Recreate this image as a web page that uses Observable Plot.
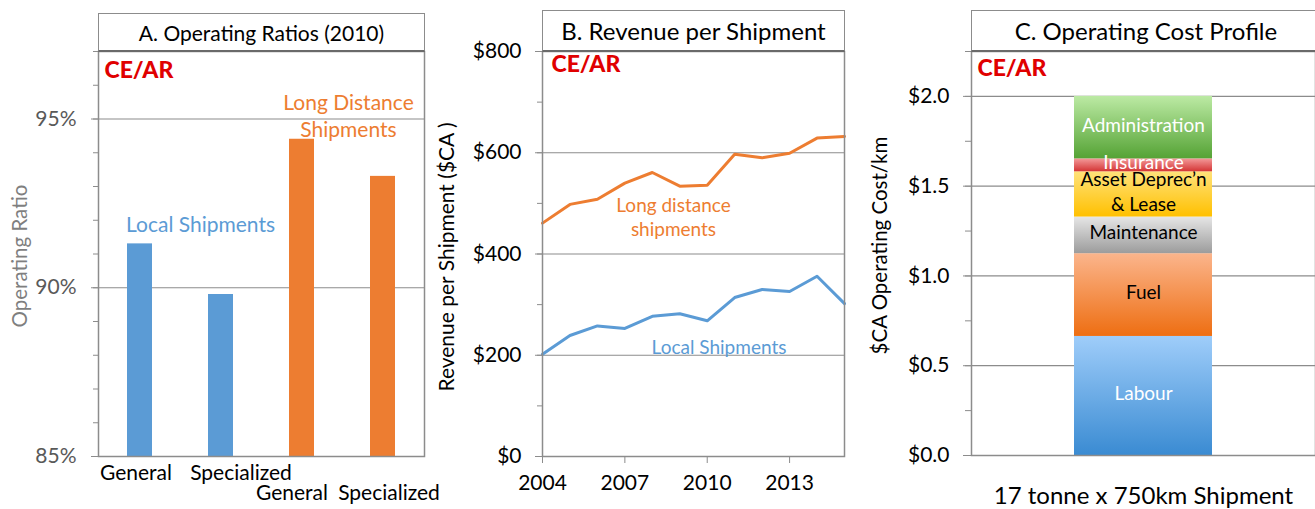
<!DOCTYPE html>
<html>
<head>
<meta charset="utf-8">
<script src="https://cdn.jsdelivr.net/npm/d3@7"></script>
<script src="https://cdn.jsdelivr.net/npm/@observablehq/plot@0.6"></script>
<style>
  body { margin: 0; background: #fff; }
  #root { position: relative; width: 1315px; height: 509px; overflow: hidden; background: #fff; font-family: Lato, "Open Sans", sans-serif; }
  .panel { position: absolute; top: 0; }
  .title { position: absolute; box-sizing: border-box; border: 1px solid #8c8c8c; border-bottom: 2px solid #6a6a6a; background: #fff;
           display: flex; align-items: center; justify-content: center; color: #000; font-family: Lato, sans-serif; }
</style>
</head>
<body>
<div id="root"></div>
<script>
// ---------------- DATA ----------------
// Panel A: Operating ratios (2010)
const catsA = ["Local General", "Local Specialized", "Long Distance General", "Long Distance Specialized"];
const groupA = ["Local", "Local", "Long", "Long"];
const tickLabelsA = ["General", "Specialized", "General", "Specialized"];
const ratioA = [91.3, 89.8, 94.4, 93.3];
const yTicksA = [85, 90, 95];

// Panel B: Revenue per shipment ($CA)
const yearsB = [2004, 2005, 2006, 2007, 2008, 2009, 2010, 2011, 2012, 2013, 2014, 2015];
const longDistanceB = [461, 498, 508, 540, 561, 534, 536, 597, 590, 599, 629, 632];
const localB = [202, 239, 258, 253, 277, 282, 268, 314, 330, 326, 356, 302];
const xTicksB = [2004, 2007, 2010, 2013];
const yTicksB = [0, 200, 400, 600, 800];

// Panel C: Operating cost profile ($CA/km)
const shipmentC = "17 tonne x 750km Shipment";
const costNamesC = ["Labour", "Fuel", "Maintenance", "Asset Deprec\u2019n\n& Lease", "Insurance", "Administration"];
const costValuesC = [0.663, 0.461, 0.204, 0.252, 0.072, 0.348];
const yTicksC = [0, 0.5, 1.0, 1.5, 2.0];

// ---------------- STYLE ----------------
const BLUE = "#5b9bd5", ORANGE = "#ed7d31";
const GRID = "#8c8c8c";
const FONT = "Lato, 'Open Sans', sans-serif";
const gradC = {
  "Labour": ["#9fcdfa", "#3a8bd2", "#fff"],
  "Fuel": ["#fbb58c", "#ee6e12", "#000"],
  "Maintenance": ["#e6e6e6", "#9c9c9c", "#000"],
  "Asset Deprec\u2019n\n& Lease": ["#ffe27a", "#ffc000", "#000"],
  "Insurance": ["#f49a9a", "#d43535", "#fff"],
  "Administration": ["#bceaa4", "#55a335", "#fff"]
};

const root = document.getElementById("root");
function addPanel(svg, left) {
  const d = document.createElement("div");
  d.className = "panel";
  d.style.left = left + "px";
  d.appendChild(svg);
  root.appendChild(d);
}
function addTitle(text, left, top, width, height, size) {
  const t = document.createElement("div");
  t.className = "title";
  Object.assign(t.style, {left: left + "px", top: top + "px", width: width + "px", height: height + "px", fontSize: size + "px"});
  t.textContent = text;
  root.appendChild(t);
}
const logo = (dx, dy) => Plot.text(["CE/AR"], {
  frameAnchor: "top-left", dx, dy, text: d => d, textAnchor: "start", lineAnchor: "middle",
  fill: "#e00000", fontSize: 23, fontWeight: 900, fontFamily: "Lato, sans-serif", letterSpacing: "-0.5px"
});
const note = (text, dx, dy, fill, fontSize, extra = {}) => Plot.text([text], {
  frameAnchor: "top-left", text: d => d, dx, dy, textAnchor: "middle", lineAnchor: "middle", fill, fontSize, ...extra
});
const yLabel = (text, dx, dy, fill, fontSize) => Plot.text([text], {
  frameAnchor: "left", text: d => d, rotate: -90, dx, dy, textAnchor: "middle", lineAnchor: "middle", fill, fontSize
});

// ---------------- PANEL A ----------------
const dataA = catsA.map((c, i) => ({cat: c, group: groupA[i], label: tickLabelsA[i], value: ratioA[i]}));
const labelOffsetsA = [[-4, 17], [20, 17], [-10, 37], [6, 37]];
const plotA = Plot.plot({
  width: 430, height: 509,
  marginLeft: 98, marginRight: 6, marginTop: 51, marginBottom: 53,
  style: {fontFamily: FONT, fontSize: "20px", background: "transparent", overflow: "visible"},
  x: {domain: catsA, paddingInner: 0.69, paddingOuter: 0.345, axis: null},
  y: {domain: [85, 97], axis: null, label: null},
  color: {type: "identity"},
  marks: [
    Plot.ruleY(yTicksA.slice(1), {stroke: GRID, strokeWidth: 1.2}),
    Plot.barY(dataA, {x: "cat", y1: 85, y2: "value", fill: d => d.group === "Local" ? BLUE : ORANGE}),
    Plot.frame({stroke: GRID, strokeWidth: 1.5}),
    Plot.axisY(d3.range(85, 98), {tickSize: 5, tickFormat: () => "", stroke: GRID, label: null}),
    Plot.axisY(yTicksA, {tickSize: 7, tickPadding: 15, tickFormat: d => d + "%", stroke: GRID, fill: "#595959", fontSize: 21, label: null}),
    yLabel("Operating Ratio", -78, 2, "#7f7f7f", 20.5),
    ...labelOffsetsA.map(([dx, dy], i) => Plot.text([dataA[i]], {x: "cat", y: 85, text: "label", dx, dy, fill: "#000", fontSize: 21})),
    note("Local Shipments", 102, 174, BLUE, 21),
    note("Long Distance\nShipments", 250, 63, ORANGE, 21, {lineHeight: 1.3}),
    logo(6, 19)
  ]
});
addPanel(plotA, 0);
addTitle("A. Operating Ratios (2010)", 98, 13, 327, 39, 21);

// ---------------- PANEL B ----------------
const dataB = yearsB.flatMap((y, i) => [
  {year: y, series: "Long distance shipments", value: longDistanceB[i]},
  {year: y, series: "Local Shipments", value: localB[i]}
]);
const plotB = Plot.plot({
  width: 430, height: 509,
  marginLeft: 112, marginRight: 16, marginTop: 51, marginBottom: 53,
  style: {fontFamily: FONT, fontSize: "20px", background: "transparent", overflow: "visible"},
  x: {domain: [2004, 2015], axis: null, label: null},
  y: {domain: [0, 800], axis: null, label: null},
  color: {type: "identity"},
  marks: [
    Plot.ruleY(yTicksB.slice(1, -1), {stroke: GRID, strokeWidth: 1.2}),
    Plot.lineY(dataB, {x: "year", y: "value", z: "series", stroke: d => d.series === "Local Shipments" ? BLUE : ORANGE, strokeWidth: 3}),
    Plot.frame({stroke: GRID, strokeWidth: 1.5}),
    Plot.axisY(d3.range(0, 801, 100), {tickSize: 5, tickFormat: () => "", stroke: GRID, label: null}),
    Plot.axisY(yTicksB, {tickSize: 7, tickPadding: 14, tickFormat: d => "$" + d, stroke: GRID, fill: "#000", fontSize: 21, label: null}),
    Plot.axisX(xTicksB, {tickSize: 7, tickPadding: 12, tickFormat: d => String(d), stroke: GRID, fill: "#000", fontSize: 21, label: null}),
    yLabel("Revenue per Shipment ($CA )", -95, 3, "#000", 21),
    note("Long distance\nshipments", 131, 164.5, ORANGE, 19, {lineHeight: 1.3}),
    note("Local Shipments", 176.5, 296, BLUE, 19),
    logo(9, 13)
  ]
});
addPanel(plotB, 430);
addTitle("B. Revenue per Shipment", 542, 10, 303, 42, 24);

// ---------------- PANEL C ----------------
const dataC = costNamesC.map((n, i) => ({shipment: shipmentC, name: n, value: costValuesC[i]}));
const gradIds = Object.fromEntries(costNamesC.map((n, i) => [n, "gradC" + i]));
const defsMark = () => {
  const defs = d3.create("svg:defs");
  costNamesC.forEach((n, i) => {
    const g = defs.append("linearGradient").attr("id", "gradC" + i).attr("x1", 0).attr("y1", 0).attr("x2", 0).attr("y2", 1);
    g.append("stop").attr("offset", "0%").attr("stop-color", gradC[n][0]);
    g.append("stop").attr("offset", "100%").attr("stop-color", gradC[n][1]);
  });
  return defs.node();
};
const plotC = Plot.plot({
  width: 455, height: 509,
  marginLeft: 111, marginRight: 0, marginTop: 51, marginBottom: 54,
  style: {fontFamily: FONT, fontSize: "20px", background: "transparent", overflow: "visible"},
  x: {domain: [shipmentC], padding: 0.4255, label: null, axis: null},
  y: {domain: [0, 2.25], axis: null, label: null},
  color: {type: "identity"},
  marks: [
    defsMark,
    Plot.ruleY(yTicksC.slice(1), {stroke: GRID, strokeWidth: 1.2}),
    Plot.barY(dataC, {x: "shipment", y: "value", fill: d => "url(#" + gradIds[d.name] + ")"}),
    Plot.text(dataC, Plot.stackY({x: "shipment", y: "value", text: "name", dy: -4, fill: d => gradC[d.name][2], fontSize: 19, lineHeight: 1.3})),
    Plot.frame({stroke: GRID, strokeWidth: 1.5}),
    Plot.axisY(d3.range(0, 2.26, 0.25), {tickSize: 6, tickFormat: () => "", stroke: GRID, label: null}),
    Plot.axisY(yTicksC, {tickSize: 8, tickPadding: 14, tickFormat: d => "$" + d.toFixed(1), stroke: GRID, fill: "#000", fontSize: 21, label: null}),
    Plot.axisX([shipmentC], {tickSize: 0, tickPadding: 31, fill: "#000", fontSize: 24, label: null}),
    yLabel("$CA Operating Cost/km", -91, -8, "#000", 20.5),
    logo(6, 17)
  ]
});
addPanel(plotC, 860);
addTitle("C. Operating Cost Profile", 971, 10, 350, 42, 24);
</script>
</body>
</html>
